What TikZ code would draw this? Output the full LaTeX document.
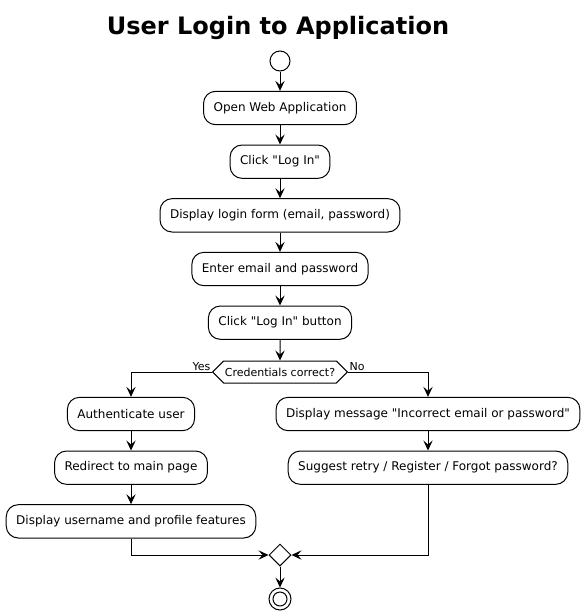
\documentclass[tikz,border=0pt]{standalone}
\usepackage{fontspec}
\setmainfont{DejaVu Sans}[Ligatures=TeXOff]
\usetikzlibrary{arrows.meta,positioning,shapes.geometric,shapes.symbols}

\begin{document}
\begin{tikzpicture}[
    x=0.75pt, y=-0.75pt,
    node distance=14.5pt,
    act/.style={draw, rounded corners=9pt, align=center, inner xsep=7.5pt, minimum height=25pt,
                font=\fontsize{9}{11}\selectfont, line width=0.75pt},
    cond/.style={draw, signal, signal to=east and west, signal pointer angle=90, inner xsep=1pt,
                 minimum height=16.5pt, font=\fontsize{8.25}{10}\selectfont, line width=0.75pt},
    merge/.style={draw, diamond, minimum size=16.5pt, inner sep=0pt, line width=0.75pt},
    dot/.style={draw, circle, inner sep=0pt, line width=0.75pt},
    lab/.style={font=\fontsize{8.25}{10}\selectfont, inner sep=1pt},
    arrow/.style={-{Stealth[length=7.5pt, width=7pt, inset=3pt]}, line width=0.75pt}
  ]
    \useasboundingbox (0,0) rectangle (585,614);
    \node[font=\bfseries\fontsize{18}{21}\selectfont] (title) at (278,28) {User Login to Application};
    \node[dot, minimum size=15pt] (start) at (280,61) {};
    \node[act, below=14.5pt of start] (open) {Open Web Application};
    \node[act, below=of open] (click) {Click "Log In"};
    \node[act, below=of click] (form) {Display login form (email, password)};
    \node[act, below=of form] (enter) {Enter email and password};
    \node[act, below=of enter] (submit) {Click "Log In" button};
    \node[cond, below=15.5pt of submit] (cred) {Credentials correct?};
    \node[lab, anchor=south east] (yes) at (cred.west) {Yes};
    \node[lab, anchor=south west] (no) at (cred.east) {No};
    % success branch
    \node[act] (auth) at (131,414) {Authenticate user};
    \node[act, below=of auth] (redirect) {Redirect to main page};
    \node[act, below=of redirect] (profile) {Display username and profile features};
    % failure branch
    \node[act] (msg) at (428,414) {Display message "Incorrect email or password"};
    \node[act, below=of msg] (retry) {Suggest retry / Register / Forgot password?};
    \node[merge] (join) at (280,555) {};
    \node[dot, minimum size=16.5pt, below=15.75pt of join] (stop) {};
    \node[dot, minimum size=10.5pt] (stopin) at (stop) {};
    \draw[arrow] (start)--(open);
    \draw[arrow] (open)--(click);
    \draw[arrow] (click)--(form);
    \draw[arrow] (form)--(enter);
    \draw[arrow] (enter)--(submit);
    \draw[arrow] (submit)--(cred);
    \draw[arrow] (cred.west) -| (auth);
    \draw[arrow] (cred.east) -| (msg);
    \draw[arrow] (auth)--(redirect);
    \draw[arrow] (redirect)--(profile);
    \draw[arrow] (msg)--(retry);
    \draw[arrow] (profile) |- (join);
    \draw[arrow] (retry) |- (join);
    \draw[arrow] (join)--(stop);
  \end{tikzpicture}
\end{document}
